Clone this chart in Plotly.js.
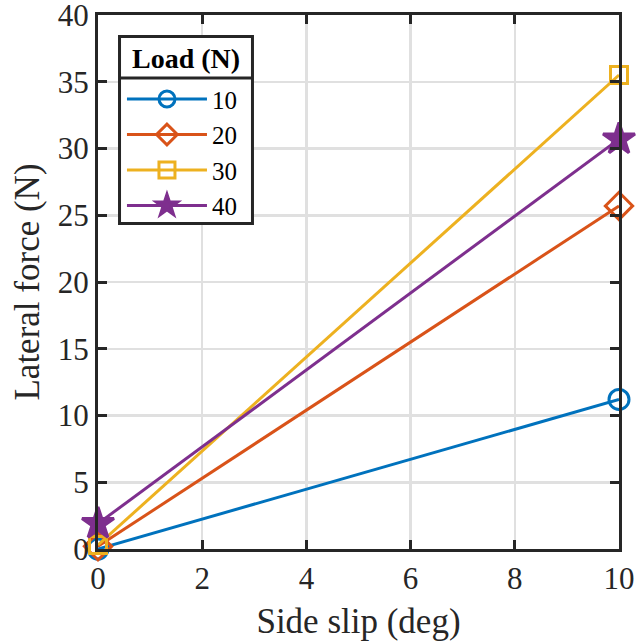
<!DOCTYPE html>
<html><head><meta charset="utf-8">
<script src="https://cdn.plot.ly/plotly-3.0.1.min.js"></script>
<style>body{margin:0;background:#fff}#c{width:636px;height:644px}</style>
</head><body><div id="c"></div>
<script>
const sideSlip = [0, 10];
const loads = ['10', '20', '30', '40'];
const force10 = [0, 11.2];
const force20 = [0.2, 25.7];
const force30 = [0.3, 35.5];
const force40 = [1.9, 30.7];
const xTicks = [0, 2, 4, 6, 8, 10];
const yTicks = [0, 5, 10, 15, 20, 25, 30, 35, 40];
const legendTitle = 'Load (N)';

const colors = ['#0072BD', '#D95319', '#EDB120', '#7E2F8E'];
const symbols = ['circle-open', 'diamond-open', 'square-open', 'star'];
const sizes = [20, 21, 17, 24];
const series = [force10, force20, force30, force40];

const traces = series.map((ys, i) => ({
  x: sideSlip, y: ys, name: loads[i], type: 'scatter', mode: 'lines+markers',
  cliponaxis: false,
  line: {color: colors[i], width: 3},
  marker: {symbol: symbols[i], size: sizes[i], color: colors[i],
           line: {color: colors[i], width: 3}}
}));

const serif = 'Liberation Serif, Times New Roman, serif';
const axisCommon = {
  showline: true, linecolor: '#262626', linewidth: 3, mirror: 'allticks',
  ticks: 'inside', ticklen: 9, tickwidth: 3, tickcolor: '#262626',
  showgrid: true, gridcolor: '#e0e0e0', gridwidth: 2.5, zeroline: false,
  ticklabeloverflow: 'allow',
  tickfont: {family: serif, size: 31, color: '#262626'}
};

// legend frame (paper coords)
const boxX0 = 0.0413, boxX1 = 0.2965, boxY0 = 0.6096, boxY1 = 0.9597, sepY = 0.882;

const layout = {
  width: 636, height: 644,
  margin: {l: 98, r: 17, t: 15, b: 95},
  paper_bgcolor: '#fff', plot_bgcolor: '#fff',
  font: {family: serif, color: '#262626'},
  xaxis: Object.assign({}, axisCommon, {
    range: [0, 10], tickvals: xTicks, ticktext: xTicks.map(String),
    title: {text: 'Side slip (deg)', font: {family: serif, size: 35, color: '#262626'}, standoff: 14}
  }),
  yaxis: Object.assign({}, axisCommon, {
    range: [0, 40], tickvals: yTicks, ticktext: yTicks.map(String),
    title: {text: 'Lateral force (N)', font: {family: serif, size: 35, color: '#262626'}, standoff: 8}
  }),
  showlegend: true,
  legend: {
    x: 0.046, y: 0.8853, xanchor: 'left', yanchor: 'top',
    bgcolor: 'rgba(0,0,0,0)', borderwidth: 0,
    font: {family: serif, size: 25, color: '#000'},
    tracegroupgap: 0, itemwidth: 80
  },
  annotations: [{
    text: '<b>' + legendTitle + '</b>', xref: 'paper', yref: 'paper',
    x: (boxX0 + boxX1) / 2, y: (549 - 59) / 534, xanchor: 'center', yanchor: 'middle',
    showarrow: false, font: {family: serif, size: 28, color: '#000'}
  }],
  shapes: [
    {type: 'rect', xref: 'paper', yref: 'paper', x0: boxX0, x1: boxX1, y0: boxY0, y1: boxY1,
     fillcolor: '#fff', line: {color: '#262626', width: 3}, layer: 'above'},
    {type: 'line', xref: 'paper', yref: 'paper', x0: boxX0, x1: boxX1, y0: sepY, y1: sepY,
     line: {color: '#262626', width: 3}, layer: 'above'}
  ]
};

Plotly.newPlot('c', traces, layout, {displayModeBar: false, staticPlot: true});
</script></body></html>
